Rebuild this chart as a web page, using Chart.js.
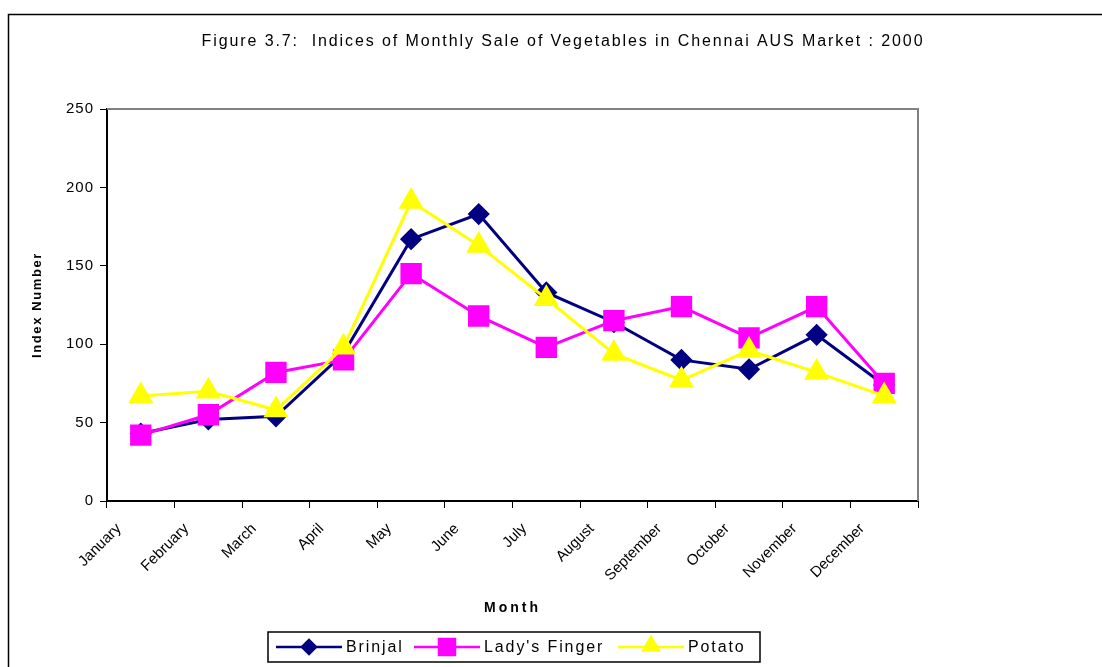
<!DOCTYPE html>
<html>
<head>
<meta charset="utf-8">
<script src="https://cdn.jsdelivr.net/npm/chart.js@4"></script>
<style>
  html, body { margin: 0; padding: 0; background: #fff; }
  canvas { display: block; }
</style>
</head>
<body>
<canvas id="myChart" width="1102" height="667"></canvas>
<script>
// data
const chartTitle = "Figure 3.7:  Indices of Monthly Sale of Vegetables in Chennai AUS Market : 2000";
const months = ["January", "February", "March", "April", "May", "June",
    "July", "August", "September", "October", "November", "December"];
const brinjal = [43, 52, 54, 94, 167, 183, 133, 114, 90, 84, 106, 74];
const ladysFinger = [42, 55, 82, 90, 145, 118, 98, 115, 124, 104, 124, 75];
const potato = [67, 70, 58, 98, 191, 163, 129, 94, 77, 96, 82, 67];
const yTicks = [0, 50, 100, 150, 200, 250];

const FONT = "'Liberation Sans', Arial, sans-serif";

//Wraps a scale method so its text is drawn with some letter spacing.
function spaced(scale, method, spacing) {
    if (scale["_spaced_" + method]) return;
    let orig = scale[method].bind(scale);
    scale[method] = function () {
        let ctx = scale.ctx;
        let old = ctx.letterSpacing;
        ctx.letterSpacing = spacing;
        orig.apply(null, arguments);
        ctx.letterSpacing = old;
    };
    scale["_spaced_" + method] = true;
}

//Draws the outer frame, the title and the grey top/right edges of the plot area.
const framePlugin = {
    id: "frame",
    beforeDraw(chart) {
        let ctx = chart.ctx;
        ctx.letterSpacing = "0px";
        spaced(chart.scales.y, "drawLabels", "1px");
        spaced(chart.scales.y, "drawTitle", "1.6px");
        spaced(chart.scales.x, "drawTitle", "3px");

        ctx.save();
        ctx.strokeStyle = "#000";
        ctx.lineWidth = 1.5;
        ctx.strokeRect(8.5, 14.5, 1300, 900);
        ctx.letterSpacing = "1.9px";
        ctx.fillStyle = "#000";
        ctx.font = "16px " + FONT;
        ctx.textAlign = "center";
        ctx.textBaseline = "middle";
        ctx.fillText(chartTitle, 563, 42);
        ctx.restore();
    },
    beforeDatasetsDraw(chart) {
        let ctx = chart.ctx;
        let a = chart.chartArea;
        ctx.save();
        ctx.strokeStyle = "#808080";
        ctx.lineWidth = 2;
        ctx.beginPath();
        ctx.moveTo(a.left, a.top);
        ctx.lineTo(a.right, a.top);
        ctx.lineTo(a.right, a.bottom);
        ctx.stroke();
        ctx.restore();
    }
};

//Legend in a box under the chart, line + marker + name for each series.
const boxLegend = {
    id: "boxLegend",
    afterDraw(chart) {
        let ctx = chart.ctx;
        let box = {x: 268, y: 632, w: 492, h: 30};
        let slots = [276, 414, 618];
        let markerSize = {rectRot: 7, rect: 11.3, triangle: 9};
        ctx.save();
        ctx.letterSpacing = "1.9px";
        ctx.strokeStyle = "#000";
        ctx.lineWidth = 1.5;
        ctx.strokeRect(box.x, box.y, box.w, box.h);
        let cy = box.y + box.h / 2;
        chart.data.datasets.forEach(function (ds, i) {
            let x0 = slots[i];
            ctx.strokeStyle = ds.borderColor;
            ctx.lineWidth = 2.5;
            ctx.beginPath();
            ctx.moveTo(x0, cy);
            ctx.lineTo(x0 + 66, cy);
            ctx.stroke();
            ctx.fillStyle = ds.pointBackgroundColor;
            ctx.strokeStyle = ds.pointBackgroundColor;
            Chart.helpers.drawPoint(ctx, {
                pointStyle: ds.pointStyle,
                radius: markerSize[ds.pointStyle],
                borderWidth: 1
            }, x0 + 33, ds.pointStyle == "triangle" ? cy - 1 : cy);
            ctx.fillStyle = "#000";
            ctx.font = "16px " + FONT;
            ctx.textBaseline = "middle";
            ctx.textAlign = "left";
            ctx.fillText(ds.label, x0 + 70, cy + 1);
        });
        ctx.restore();
    }
};

var ctx = document.getElementById("myChart").getContext("2d");
var myChart = new Chart(ctx, {
    type: "line",
    data: {
        labels: months,
        datasets: [
            {
                label: "Brinjal",
                data: brinjal,
                borderColor: "#000080",
                backgroundColor: "#000080",
                pointBackgroundColor: "#000080",
                pointBorderColor: "#000080",
                pointStyle: "rectRot",
                pointRadius: 9,
                borderWidth: 3,
                order: 2
            },
            {
                label: "Lady's Finger",
                data: ladysFinger,
                borderColor: "#FF00FF",
                backgroundColor: "#FF00FF",
                pointBackgroundColor: "#FF00FF",
                pointBorderColor: "#FF00FF",
                pointStyle: "rect",
                pointRadius: 13,
                borderWidth: 3,
                order: 1
            },
            {
                label: "Potato",
                data: potato,
                borderColor: "#FFFF00",
                backgroundColor: "#FFFF00",
                pointBackgroundColor: "#FFFF00",
                pointBorderColor: "#FFFF00",
                pointStyle: "triangle",
                pointRadius: 11.5,
                borderWidth: 3,
                order: 0
            }
        ]
    },
    options: {
        responsive: false,
        animation: false,
        maintainAspectRatio: false,
        layout: {padding: {left: 0, right: 184, top: 109, bottom: 0}},
        plugins: {
            legend: {display: false},
            tooltip: {enabled: false},
            title: {display: false}
        },
        scales: {
            x: {
                offset: true,
                afterFit: function (scale) { scale.height = 166; },
                grid: {
                    display: true,
                    offset: true,
                    drawOnChartArea: false,
                    color: "#000",
                    tickLength: 7,
                    tickWidth: 1
                },
                border: {display: true, color: "#000", width: 2},
                ticks: {
                    color: "#000",
                    font: {family: FONT, size: 15},
                    minRotation: 45,
                    maxRotation: 45,
                    autoSkip: false,
                    padding: 12,
                    labelOffset: -22
                },
                title: {
                    display: true,
                    text: "Month",
                    color: "#000",
                    font: {family: FONT, size: 14, weight: "bold"},
                    padding: {top: 0, bottom: 50}
                }
            },
            y: {
                min: 0,
                max: 250,
                afterFit: function (scale) { scale.width = 107; },
                afterBuildTicks: function (scale) {
                    scale.ticks = yTicks.map(v => ({value: v}));
                },
                grid: {
                    display: true,
                    drawOnChartArea: false,
                    color: "#000",
                    tickLength: 7,
                    tickWidth: 1
                },
                border: {display: true, color: "#000", width: 2},
                ticks: {
                    color: "#000",
                    font: {family: FONT, size: 15},
                    padding: 6
                },
                title: {
                    display: true,
                    text: "Index Number",
                    color: "#000",
                    font: {family: FONT, size: 13, weight: "bold"},
                    padding: {top: 30, bottom: 0}
                }
            }
        }
    },
    plugins: [framePlugin, boxLegend]
});
</script>
</body>
</html>
